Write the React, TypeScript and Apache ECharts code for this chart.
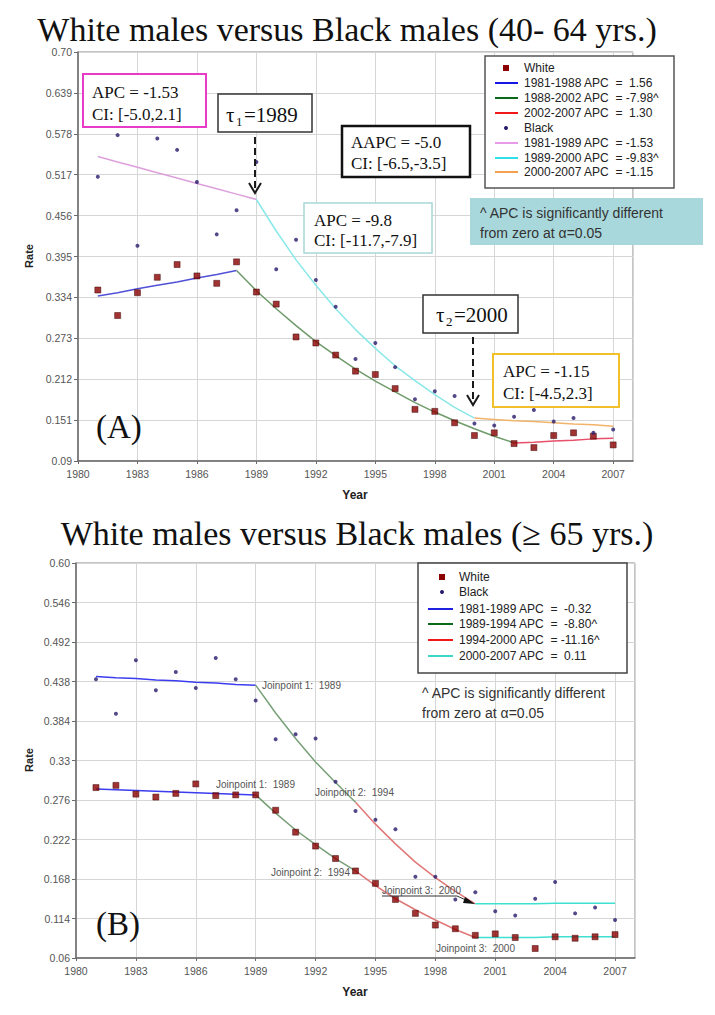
import React, { useEffect, useRef } from 'react';
import * as echarts from 'echarts';

// ---------- data ----------
const years = [1981, 1982, 1983, 1984, 1985, 1986, 1987, 1988, 1989, 1990, 1991, 1992, 1993, 1994,
  1995, 1996, 1997, 1998, 1999, 2000, 2001, 2002, 2003, 2004, 2005, 2006, 2007];

const xTickLabels = ['1980', '1983', '1986', '1989', '1992', '1995', '1998', '2001', '2004', '2007'];
const topYTickLabels = ['0.09', '0.151', '0.212', '0.273', '0.334', '0.395', '0.456', '0.517', '0.578', '0.639', '0.70'];
const botYTickLabels = ['0.06', '0.114', '0.168', '0.222', '0.276', '0.33', '0.384', '0.438', '0.492', '0.546', '0.60'];

// (A) 40-64 yrs observed rates
const topWhite = [0.345, 0.307, 0.341, 0.364, 0.383, 0.366, 0.355, 0.387, 0.342,
  0.324, 0.275, 0.266, 0.248, 0.224, 0.219, 0.198, 0.167, 0.164, 0.147,
  0.128, 0.132, 0.116, 0.110, 0.128, 0.132, 0.127, 0.114];
const topBlack = [0.514, 0.576, 0.411, 0.571, 0.554, 0.506, 0.428, 0.464, 0.536,
  0.376, 0.420, 0.360, 0.320, 0.242, 0.266, 0.230, 0.182, 0.194, 0.187,
  0.146, 0.143, 0.156, 0.166, 0.149, 0.154, 0.132, 0.137];

// (A) fitted joinpoint segments (start year, values)
const topWhiteFit1Start = 1981;
const topWhiteFit1 = [0.336, 0.341, 0.347, 0.352, 0.357, 0.363, 0.368, 0.374];
const topWhiteFit2Start = 1988;
const topWhiteFit2 = [0.374, 0.344, 0.317, 0.292, 0.268, 0.247, 0.227, 0.209, 0.193, 0.177, 0.163, 0.150, 0.138, 0.127, 0.117];
const topWhiteFit3Start = 2002;
const topWhiteFit3 = [0.117, 0.118, 0.120, 0.121, 0.123, 0.124];
const topBlackFit1Start = 1981;
const topBlackFit1 = [0.544, 0.536, 0.528, 0.520, 0.512, 0.504, 0.496, 0.488, 0.480];
const topBlackFit2Start = 1989;
const topBlackFit2 = [0.480, 0.433, 0.390, 0.352, 0.317, 0.286, 0.258, 0.232, 0.210, 0.189, 0.170, 0.154];
const topBlackFit3Start = 2000;
const topBlackFit3 = [0.154, 0.152, 0.150, 0.149, 0.147, 0.145, 0.144, 0.142];

// (B) >= 65 yrs observed rates
const botWhite = [0.293, 0.296, 0.284, 0.280, 0.285, 0.298, 0.282, 0.283, 0.283,
  0.262, 0.232, 0.213, 0.196, 0.179, 0.162, 0.140, 0.121, 0.105, 0.100,
  0.091, 0.093, 0.088, 0.073, 0.089, 0.087, 0.089, 0.092];
const botBlack = [0.441, 0.394, 0.467, 0.426, 0.451, 0.429, 0.470, 0.441, 0.412,
  0.359, 0.366, 0.360, 0.301, 0.261, 0.249, 0.236, 0.171, 0.171, 0.140,
  0.150, 0.124, 0.118, 0.141, 0.164, 0.121, 0.129, 0.112];

// (B) fitted segments
const botFit1Start = 1981;
const botWhiteFit1 = [0.291, 0.290, 0.289, 0.288, 0.287, 0.286, 0.285, 0.284, 0.283];
const botBlackFit1 = [0.445, 0.443, 0.442, 0.440, 0.439, 0.437, 0.436, 0.434, 0.433];
const botFit2Start = 1989;
const botWhiteFit2 = [0.283, 0.258, 0.235, 0.215, 0.196, 0.179];
const botBlackFit2 = [0.433, 0.395, 0.360, 0.328, 0.300, 0.273];
const botFit3Start = 1994;
const botWhiteFit3 = [0.179, 0.159, 0.141, 0.126, 0.112, 0.099, 0.088];
const botBlackFit3 = [0.273, 0.243, 0.216, 0.191, 0.170, 0.151, 0.134];
const botFit4Start = 2000;
const botWhiteFit4 = [0.088, 0.088, 0.088, 0.088, 0.089, 0.089, 0.089, 0.089];
const botBlackFit4 = [0.134, 0.134, 0.134, 0.134, 0.135, 0.135, 0.135, 0.135];

const topLegendLabels = ['White', '1981-1988 APC  =  1.56', '1988-2002 APC  = -7.98^', '2002-2007 APC  =  1.30',
  'Black', '1981-1989 APC  = -1.53', '1989-2000 APC  = -9.83^', '2000-2007 APC  = -1.15'];
const botLegendLabels = ['White', 'Black', '1981-1989 APC  =  -0.32', '1989-1994 APC  =  -8.80^',
  '1994-2000 APC  = -11.16^', '2000-2007 APC  =  0.11'];

// ---------- styling constants ----------
const TOP_MIN = 0.09, TOP_STEP = 0.061, TOP_SPAN = 0.61;
const BOT_MIN = 0.06, BOT_STEP = 0.054, BOT_SPAN = 0.54;
const SANS = '"Liberation Sans", Arial, sans-serif';
const SERIF = '"Liberation Serif", "Times New Roman", serif';
const WHITE_C = '#8b0000';
const BLACK_C = '#2b1a6b';

export default function App() {
  const ref = useRef<HTMLDivElement>(null);

  useEffect(() => {
    const chart = echarts.init(ref.current!, null, { renderer: 'svg' });

    const scatter = (vals: number[], off: number, gi: number, kind: 'w' | 'b') => ({
      type: 'scatter', xAxisIndex: gi, yAxisIndex: gi, silent: true, z: 4,
      symbol: kind === 'w' ? 'rect' : 'circle',
      symbolSize: kind === 'w' ? 6 : 4,
      itemStyle: kind === 'w'
        ? { color: WHITE_C, borderColor: '#3a0000', borderWidth: 0.6 }
        : { color: BLACK_C },
      data: years.map((y, i) => [y, vals[i] - off]),
    });
    const fit = (vals: number[], start: number, off: number, gi: number, color: string) => ({
      type: 'line', xAxisIndex: gi, yAxisIndex: gi, silent: true, z: 3,
      showSymbol: false, symbol: 'none',
      lineStyle: { color, width: 1.5 },
      data: vals.map((v, i) => [start + i, v - off]),
    });

    const xAxis = (gi: number) => ({
      gridIndex: gi, type: 'value', min: 1980, max: 2008, interval: 3,
      axisLine: { show: true, lineStyle: { color: '#6a6a6a', width: 1.5 } },
      axisTick: { show: true, length: 3, lineStyle: { color: '#6a6a6a' } },
      axisLabel: {
        showMaxLabel: false, fontSize: 10.5, color: '#555', fontFamily: SANS, margin: 7,
        formatter: (v: number) => xTickLabels[Math.round((v - 1980) / 3)] ?? '',
      },
      splitLine: { show: true, lineStyle: { color: '#d6d6d6', width: 1 } },
    });
    const yAxis = (gi: number, span: number, step: number, labels: string[]) => ({
      gridIndex: gi, type: 'value', min: 0, max: span, interval: step,
      axisLine: { show: true, lineStyle: { color: '#6a6a6a', width: 1.5 } },
      axisTick: { show: true, length: 4, lineStyle: { color: '#6a6a6a' } },
      axisLabel: {
        fontSize: 10.5, color: '#555', fontFamily: SANS, margin: 6,
        formatter: (v: number) => labels[Math.round(v / step)] ?? '',
      },
      splitLine: { show: true, lineStyle: { color: '#d6d6d6', width: 1 } },
    });

    const txt = (x: number, y: number, text: string, o: any = {}) => ({
      type: 'text', x, y, z: 100, rotation: o.rotation ?? 0,
      style: {
        text, fill: o.fill ?? '#111', fontSize: o.size ?? 17, fontFamily: o.font ?? SERIF,
        fontWeight: o.weight ?? 'normal', align: o.align ?? 'left', verticalAlign: 'middle',
      },
    });
    const box = (x: number, y: number, w: number, h: number, stroke: string, lw: number, fill = '#fff') => ({
      type: 'rect', z: 99, shape: { x, y, width: w, height: h },
      style: { fill, stroke, lineWidth: lw },
    });
    const seg = (x1: number, y1: number, x2: number, y2: number, stroke: string, lw: number, dash?: number[]) => ({
      type: 'line', z: 100, shape: { x1, y1, x2, y2 },
      style: { stroke, lineWidth: lw, lineDash: dash },
    });
    const downArrow = (x: number, y1: number, y2: number) => [
      seg(x, y1, x, y2 - 2, '#1a1a1a', 2, [7, 4]),
      { type: 'polyline', z: 100, shape: { points: [[x - 6, y2 - 10], [x, y2], [x + 6, y2 - 10]] },
        style: { stroke: '#1a1a1a', lineWidth: 2, fill: null } },
    ];

    const topLegendColors = [WHITE_C, '#1515e8', '#0b6a1a', '#f01818', BLACK_C, '#e79ae7', '#2ee0ea', '#f4a04c'];
    const topLegendY = [68, 83, 98, 113, 128, 143, 158, 172];
    const topLegend: any[] = [box(485, 56, 189, 132, '#555', 1.5)];
    topLegendLabels.forEach((l, i) => {
      const y = topLegendY[i];
      if (i === 0) topLegend.push({ type: 'rect', z: 100, shape: { x: 503, y: y - 3, width: 6, height: 6 }, style: { fill: WHITE_C } });
      else if (i === 4) topLegend.push({ type: 'circle', z: 100, shape: { cx: 506, cy: y, r: 2 }, style: { fill: BLACK_C } });
      else topLegend.push(seg(495, y, 518, y, topLegendColors[i], 2));
      topLegend.push(txt(524, y, l, { font: SANS, size: 12, fill: '#222' }));
    });

    const botLegendColors = [WHITE_C, BLACK_C, '#2020e0', '#0b6a1a', '#f01818', '#3ed8c8'];
    const botLegendY = [577, 592, 609, 624, 640, 656];
    const botLegend: any[] = [box(418, 563, 209, 110, '#444', 1.5)];
    botLegendLabels.forEach((l, i) => {
      const y = botLegendY[i];
      if (i === 0) botLegend.push({ type: 'rect', z: 100, shape: { x: 439, y: y - 3, width: 6, height: 6 }, style: { fill: WHITE_C } });
      else if (i === 1) botLegend.push({ type: 'circle', z: 100, shape: { cx: 442, cy: y, r: 2 }, style: { fill: BLACK_C } });
      else botLegend.push(seg(428, y, 453, y, botLegendColors[i], 2));
      botLegend.push(txt(459, y, l, { font: SANS, size: 12, fill: '#222' }));
    });

    const jp = (x: number, y: number, t: string) => txt(x, y, t, { font: SANS, size: 10, fill: '#555' });

    const graphics: any[] = [
      // titles
      txt(347, 29, 'White males versus Black males (40- 64 yrs.)', { size: 34, align: 'center' }),
      txt(357, 533, 'White males versus Black males (\u2265 65 yrs.)', { size: 34, align: 'center' }),
      // axis names
      txt(29, 256, 'Rate', { font: SANS, size: 11, weight: 'bold', align: 'center', rotation: Math.PI / 2, fill: '#222' }),
      txt(355, 495, 'Year', { font: SANS, size: 12, weight: 'bold', align: 'center', fill: '#222' }),
      txt(29, 760, 'Rate', { font: SANS, size: 11, weight: 'bold', align: 'center', rotation: Math.PI / 2, fill: '#222' }),
      txt(355, 992, 'Year', { font: SANS, size: 12, weight: 'bold', align: 'center', fill: '#222' }),
      // panel letters
      txt(96, 427, '(A)', { size: 33 }),
      txt(96, 924, '(B)', { size: 33 }),

      // ---- panel A annotations ----
      box(83, 74, 123, 53, '#e83cc8', 2),
      txt(92, 92, 'APC = -1.53'),
      txt(92, 114, 'CI: [-5.0,2.1]'),

      box(218, 94, 94, 38, '#333', 1.5),
      txt(226, 115, '\u03c4', { size: 21 }),
      txt(236, 121, '1', { size: 13 }),
      txt(244, 115, '=1989', { size: 21 }),
      ...downArrow(255, 137, 193),

      box(342, 126, 128, 51, '#111', 2.5),
      txt(351, 142, 'AAPC = -5.0'),
      txt(351, 163, 'CI: [-6.5,-3.5]'),

      box(304, 203, 128, 50, '#a5d8d8', 1.5),
      txt(314, 220, 'APC = -9.8'),
      txt(314, 240, 'CI: [-11.7,-7.9]'),

      ...topLegend,

      box(470, 198, 233, 47, 'none', 0, '#a9d8dc'),
      txt(480, 213, '^ APC is significantly different', { font: SANS, size: 14, fill: '#333' }),
      txt(480, 233, 'from zero at \u03b1=0.05', { font: SANS, size: 14, fill: '#333' }),

      box(423, 295, 95, 38, '#333', 1.5),
      txt(436, 315, '\u03c4', { size: 21 }),
      txt(446, 321, '2', { size: 13 }),
      txt(454, 315, '=2000', { size: 21 }),
      ...downArrow(473, 337, 405),

      box(493, 354, 126, 53, '#f2c02a', 2),
      txt(503, 371, 'APC = -1.15'),
      txt(503, 393, 'CI: [-4.5,2.3]'),

      // ---- panel B annotations ----
      ...botLegend,
      txt(422, 693, '^ APC is significantly different', { font: SANS, size: 14, fill: '#333' }),
      txt(422, 713, 'from zero at \u03b1=0.05', { font: SANS, size: 14, fill: '#333' }),

      jp(262, 685, 'Joinpoint 1:  1989'),
      jp(216, 784, 'Joinpoint 1:  1989'),
      jp(315, 792, 'Joinpoint 2:  1994'),
      jp(271, 872, 'Joinpoint 2:  1994'),
      jp(382, 890, 'Joinpoint 3:  2000'),
      jp(436, 948, 'Joinpoint 3:  2000'),
      { type: 'polyline', z: 100, shape: { points: [[382, 896], [457, 896], [468, 901]] },
        style: { stroke: '#333', lineWidth: 1, fill: null } },
      { type: 'polygon', z: 100, shape: { points: [[475, 904], [465, 897], [463, 903]] },
        style: { fill: '#111' } },
    ];

    const option: any = {
      animation: false,
      backgroundColor: '#fff',
      grid: [
        { left: 78, top: 52, width: 555, height: 409, show: true, borderColor: '#8a8a8a', borderWidth: 1, backgroundColor: '#fff' },
        { left: 76, top: 563, width: 559, height: 395, show: true, borderColor: '#8a8a8a', borderWidth: 1, backgroundColor: '#fff' },
      ],
      xAxis: [xAxis(0), xAxis(1)],
      yAxis: [yAxis(0, TOP_SPAN, TOP_STEP, topYTickLabels), yAxis(1, BOT_SPAN, BOT_STEP, botYTickLabels)],
      series: [
        fit(topWhiteFit1, topWhiteFit1Start, TOP_MIN, 0, '#5050d8'),
        fit(topWhiteFit2, topWhiteFit2Start, TOP_MIN, 0, '#6f9a6a'),
        fit(topWhiteFit3, topWhiteFit3Start, TOP_MIN, 0, '#e8506a'),
        fit(topBlackFit1, topBlackFit1Start, TOP_MIN, 0, '#dda0dd'),
        fit(topBlackFit2, topBlackFit2Start, TOP_MIN, 0, '#8ae8e8'),
        fit(topBlackFit3, topBlackFit3Start, TOP_MIN, 0, '#f2b36a'),
        scatter(topWhite, TOP_MIN, 0, 'w'),
        scatter(topBlack, TOP_MIN, 0, 'b'),

        fit(botWhiteFit1, botFit1Start, BOT_MIN, 1, '#3c3cf0'),
        fit(botBlackFit1, botFit1Start, BOT_MIN, 1, '#3c3cf0'),
        fit(botWhiteFit2, botFit2Start, BOT_MIN, 1, '#78a078'),
        fit(botBlackFit2, botFit2Start, BOT_MIN, 1, '#78a078'),
        fit(botWhiteFit3, botFit3Start, BOT_MIN, 1, '#e07878'),
        fit(botBlackFit3, botFit3Start, BOT_MIN, 1, '#e07878'),
        fit(botWhiteFit4, botFit4Start, BOT_MIN, 1, '#3ee0d0'),
        fit(botBlackFit4, botFit4Start, BOT_MIN, 1, '#3ee0d0'),
        scatter(botWhite, BOT_MIN, 1, 'w'),
        scatter(botBlack, BOT_MIN, 1, 'b'),
      ],
      graphic: graphics,
    };

    chart.setOption(option);
    return () => chart.dispose();
  }, []);

  return (
    <div
      ref={ref}
      style={{ position: 'absolute', left: 0, top: 0, width: 715, height: 1015, background: '#fff' }}
    />
  );
}
